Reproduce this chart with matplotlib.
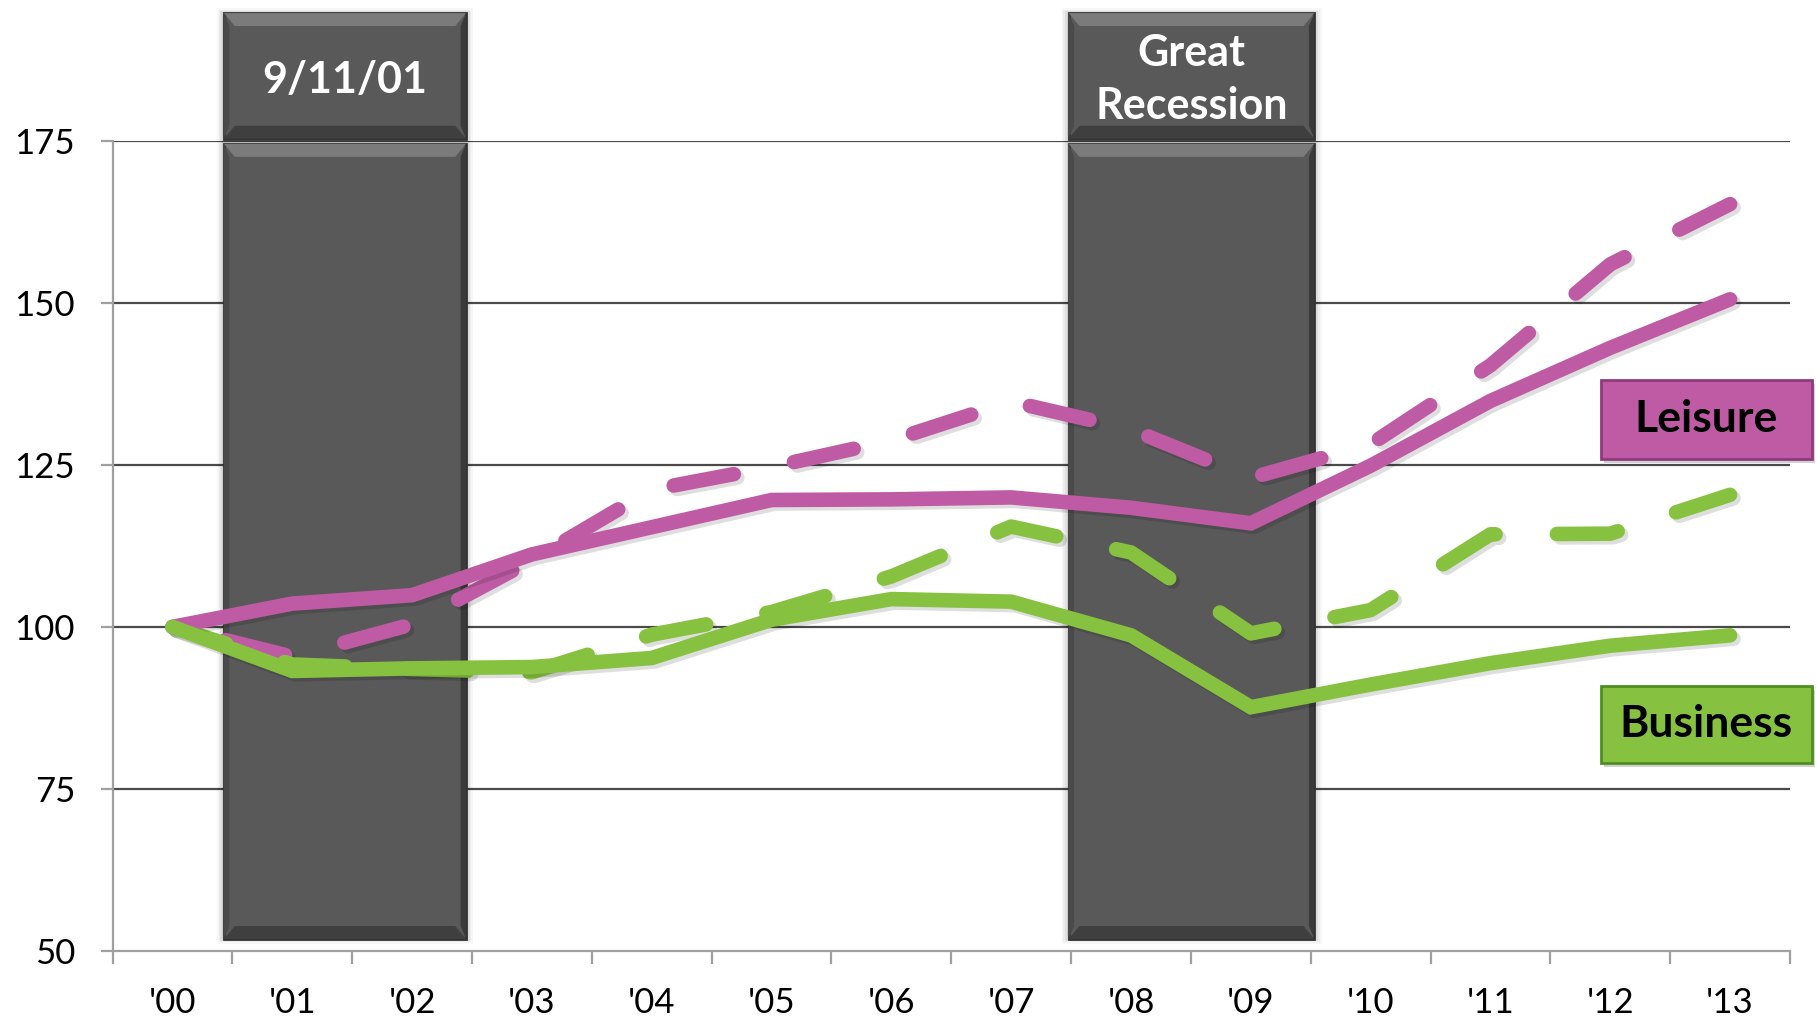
import matplotlib
matplotlib.use("Agg")
import numpy as np
import matplotlib.pyplot as plt
import matplotlib.patheffects as pe
from matplotlib.patches import Rectangle, Polygon

# ---------------- data ----------------
years = ["'00", "'01", "'02", "'03", "'04", "'05", "'06",
         "'07", "'08", "'09", "'10", "'11", "'12", "'13"]
leisure_solid = [100, 103.6, 104.9, 111.2, 115.4, 119.6, 119.7,
                 120.0, 118.4, 116.0, 124.9, 134.9, 143.1, 150.6]
leisure_dashed = [100, 95.4, 100.4, 110.3, 121.2, 124.7, 128.8,
                  134.8, 130.5, 123.0, 128.2, 140.4, 156.0, 165.3]
business_solid = [100, 93.2, 93.6, 93.8, 95.2, 101.1, 104.3,
                  103.9, 98.7, 87.6, 91.1, 94.4, 97.1, 98.7]
business_dashed = [100, 94.2, 93.5, 93.0, 98.8, 102.3, 107.8,
                   115.5, 111.5, 99.0, 102.6, 114.3, 114.4, 120.4]
yticks = [50, 75, 100, 125, 150, 175]

event_labels = ["9/11/01", "Great\nRecession"]
event_start = [0.43, 7.48]
event_end = [2.45, 9.53]

series_labels = ["Leisure", "Business"]

# ---------------- style ----------------
PINK = "#BE5BA4"
GREEN = "#86C23F"
BAND = "#595959"
FONT = ["Lato", "DejaVu Sans"]
plt.rcParams["font.family"] = FONT
DPI = 100

fig = plt.figure(figsize=(18.18, 10.21), dpi=DPI)
ax = fig.add_axes([0.0619, 0.0689, 0.9227, 0.7927])
x = list(range(len(years)))
ax.set_xlim(-0.5, len(years) - 0.5)
ax.set_ylim(50, 175)

# grid
for v in yticks[1:]:
    ax.axhline(v, color="#4a4a4a", lw=1.6, zorder=0.5)

# bands (events)
y_top, y_sep, y_bot = 194.8, 175.0, 51.8
for lbl, s, e in zip(event_labels, event_start, event_end):
    for k, a in [(0.06, 0.03), (0.045, 0.04), (0.03, 0.06), (0.015, 0.08)]:
        ax.add_patch(Rectangle((s - k, y_bot - k * 12), (e - s) + 2 * k,
                               (y_top - y_bot) + k * 24, facecolor="#000000",
                               alpha=a, lw=0, zorder=1, clip_on=False))
    for (b0, b1) in [(y_sep + 0.4, y_top), (y_bot, y_sep - 0.4)]:
        ax.add_patch(Rectangle((s, b0), e - s, b1 - b0, facecolor=BAND,
                               edgecolor="#333333", lw=2.0, zorder=1.2,
                               clip_on=False))
        dx, dy = 0.09, 2.0
        ax.add_patch(Polygon([(s, b1), (e, b1), (e - dx, b1 - dy),
                              (s + dx, b1 - dy)], closed=True,
                             facecolor="#7b7b7b", lw=0, zorder=1.3,
                             clip_on=False))
        ax.add_patch(Polygon([(s, b0), (e, b0), (e - dx, b0 + dy),
                              (s + dx, b0 + dy)], closed=True,
                             facecolor="#3f3f3f", lw=0, zorder=1.3,
                             clip_on=False))
        ax.add_patch(Polygon([(s, b0), (s + dx * 0.5, b0 + dy), (s + dx * 0.5, b1 - dy),
                              (s, b1)], closed=True, facecolor="#4a4a4a",
                             lw=0, zorder=1.3, clip_on=False))
        ax.add_patch(Polygon([(e, b0), (e - dx * 0.5, b0 + dy), (e - dx * 0.5, b1 - dy),
                              (e, b1)], closed=True, facecolor="#3a3a3a",
                             lw=0, zorder=1.3, clip_on=False))
    ax.text((s + e) / 2, (y_sep + y_top) / 2 - 0.4, lbl, color="white",
            fontsize=31, fontweight="bold", ha="center", va="center",
            linespacing=1.4, zorder=2, clip_on=False)

# lines
LW = 10.5
ON, OFF = 4.2, 4.2
shadow = [pe.SimpleLineShadow(offset=(2.5, -2.5), shadow_color="black", alpha=0.13),
          pe.Normal()]


def end_aligned_style(yvals):
    pts = ax.transData.transform(np.column_stack([x, yvals]))
    length_pt = np.sum(np.hypot(*np.diff(pts, axis=0).T)) * 72.0 / DPI
    length_lw = length_pt / LW
    period = ON + OFF
    offset = (ON - 0.3 - length_lw) % period
    return (offset, (ON, OFF))


ax.plot(x, leisure_dashed, color=PINK, lw=LW,
        linestyle=end_aligned_style(leisure_dashed),
        dash_capstyle="round", dash_joinstyle="round", zorder=3,
        path_effects=shadow)
ax.plot(x, business_dashed, color=GREEN, lw=LW,
        linestyle=end_aligned_style(business_dashed),
        dash_capstyle="round", dash_joinstyle="round", zorder=3,
        path_effects=shadow)
ax.plot(x, leisure_solid, color=PINK, lw=LW, solid_capstyle="round",
        solid_joinstyle="miter", zorder=3.2, path_effects=shadow)
ax.plot(x, business_solid, color=GREEN, lw=LW, solid_capstyle="round",
        solid_joinstyle="miter", zorder=3.2, path_effects=shadow)

# series label boxes
box_specs = [(series_labels[0], PINK, "#8e3a7c", 125.95, 138.15),
             (series_labels[1], GREEN, "#4f8f22", 79.0, 90.9)]
bx0, bx1 = 11.92, 13.68
for lbl, fc, ec, b0, b1 in box_specs:
    ax.add_patch(Rectangle((bx0 + 0.03, b0 - 0.6), bx1 - bx0, b1 - b0,
                           facecolor="#000000", alpha=0.18, lw=0,
                           zorder=4, clip_on=False))
    ax.add_patch(Rectangle((bx0, b0), bx1 - bx0, b1 - b0, facecolor=fc,
                           edgecolor=ec, lw=2.0, zorder=4.1, clip_on=False))
    ax.text((bx0 + bx1) / 2, (b0 + b1) / 2, lbl, color="black",
            fontsize=32, fontweight="bold", ha="center", va="center",
            zorder=5, clip_on=False)

# axes styling
for side in ["top", "right"]:
    ax.spines[side].set_visible(False)
for side in ["left", "bottom"]:
    ax.spines[side].set_color("#a0a0a0")
    ax.spines[side].set_linewidth(1.6)
ax.set_yticks(yticks)
ax.set_yticklabels([str(v) for v in yticks])
ax.tick_params(axis="y", length=9, width=1.6, color="#a0a0a0",
               labelsize=25, pad=18)
ax.set_xticks(x)
ax.set_xticklabels(years)
ax.tick_params(axis="x", which="major", length=0, labelsize=25, pad=26)
ax.set_xticks([i - 0.5 for i in range(len(years) + 1)], minor=True)
ax.tick_params(axis="x", which="minor", length=9, width=1.6, color="#a0a0a0")

fig.savefig("out.png", dpi=DPI, facecolor="white")
